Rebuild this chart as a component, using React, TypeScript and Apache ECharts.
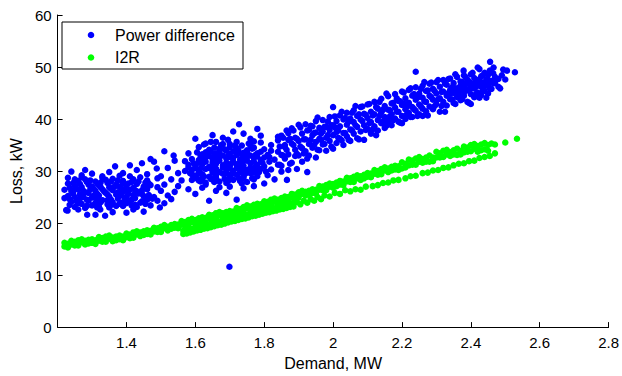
import React, { useEffect, useRef } from "react";
import * as echarts from "echarts";

type P = [number, number];

const xRange = [1.2, 2.8];
const xStep = 0.2;
const yRange = [0, 60];
const yStep = 10;

const blueCluster1: P[] = [
  [1.24,24.1],[1.26,23.8],[1.29,24.3],[1.31,23.9],[1.33,24.4],[1.36,24.0],[1.38,23.7],[1.41,24.2],[1.44,23.9],[1.46,24.5],
  [1.23,25.2],[1.25,25.0],[1.27,25.4],[1.30,24.9],[1.32,25.3],[1.35,25.1],[1.37,25.5],[1.40,25.0],[1.42,25.4],[1.45,25.2],[1.48,25.0],
  [1.24,26.1],[1.26,26.4],[1.28,25.9],[1.31,26.2],[1.33,26.5],[1.34,25.8],[1.36,26.3],[1.39,26.0],[1.41,26.4],[1.43,26.1],[1.46,26.5],
  [1.25,27.2],[1.27,26.9],[1.29,27.4],[1.30,27.0],[1.32,27.3],[1.35,26.9],[1.37,27.4],[1.38,27.0],[1.40,27.2],[1.43,27.5],[1.45,27.0],[1.47,27.3],
  [1.26,28.1],[1.28,28.4],[1.31,28.0],[1.34,28.3],[1.36,28.5],[1.39,28.1],[1.42,28.4],[1.44,28.8],[1.46,28.2],[1.49,28.6],
  [1.25,23.1],[1.28,22.9],[1.32,23.2],[1.35,23.0],[1.39,23.3],[1.43,23.1],[1.47,23.4],
  [1.235,23.5],[1.27,23.7],[1.30,23.4],[1.345,23.6],[1.37,23.3],[1.40,23.8],[1.425,23.5],[1.455,23.7],
  [1.235,24.6],[1.265,24.7],[1.285,24.5],[1.315,24.6],[1.345,24.4],[1.375,24.7],[1.395,24.5],[1.425,24.8],[1.455,24.4],[1.475,24.7],
  [1.245,25.7],[1.265,25.5],[1.29,25.8],[1.315,25.6],[1.345,25.5],[1.375,25.9],[1.405,25.6],[1.435,25.7],[1.465,25.4],
  [1.235,26.8],[1.255,26.6],[1.295,26.5],[1.325,26.9],[1.355,26.6],[1.385,26.7],[1.42,26.8],[1.445,26.3],[1.49,26.9],
  [1.245,27.7],[1.285,27.9],[1.315,27.6],[1.345,27.7],[1.39,27.6],[1.415,27.9],[1.455,27.8],
  [1.27,28.8],[1.33,28.7],[1.38,29.1],[1.41,29.0],[1.25,28.4],
  [1.255,24.2],[1.275,25.0],[1.305,25.3],[1.325,24.0],[1.355,24.5],[1.385,25.3],[1.415,24.5],[1.445,25.6],
  [1.245,26.3],[1.275,26.2],[1.305,26.6],[1.335,26.1],[1.365,27.0],[1.395,26.4],[1.425,26.3],[1.455,26.8],
  [1.265,27.5],[1.295,28.2],[1.325,27.8],[1.355,28.0],[1.375,28.2],[1.405,27.6],[1.435,28.0],[1.465,27.6],
  [1.285,23.3],[1.315,23.0],[1.355,23.5],[1.385,23.9],[1.415,23.4],[1.445,24.2],
  [1.22,24.8],[1.225,22.5],[1.23,27.6],[1.22,26.4],[1.23,28.7],[1.229,22.4],[1.286,21.6],[1.31,21.6],[1.338,21.4],[1.40,22.0],
  [1.42,22.6],[1.497,23.0],[1.324,22.6],[1.27,29.2],[1.30,29.5],[1.33,29.0],[1.367,30.9],[1.41,31.1],[1.445,31.5],[1.488,30.5],
  [1.51,33.8],[1.537,33.0],[1.54,32.0],[1.57,31.9],[1.35,29.8],[1.39,29.6],[1.43,30.2],[1.46,29.4],[1.48,31.8],[1.50,29.0],
  [1.51,27.4],[1.50,26.2],[1.52,25.3],[1.49,24.3],[1.51,23.8],[1.53,24.6],[1.52,30.6],[1.47,32.3],[1.45,22.2],[1.36,22.1],
  [1.26,22.6],[1.24,29.9],[1.28,30.2],[1.53,28.4],[1.55,27.1],[1.55,29.6],[1.54,26.0]
];

const blueCluster2: P[] = [
  [1.61,28.2],[1.63,27.8],[1.65,28.4],[1.67,28.0],[1.69,27.7],[1.71,28.3],[1.73,28.1],[1.75,27.9],[1.77,28.4],
  [1.60,29.1],[1.62,29.4],[1.64,28.9],[1.66,29.2],[1.68,29.5],[1.70,29.0],[1.72,29.3],[1.74,29.1],[1.76,29.6],[1.78,29.0],
  [1.59,30.2],[1.61,29.9],[1.63,30.4],[1.65,30.1],[1.67,29.8],[1.69,30.3],[1.71,30.0],[1.73,30.5],[1.75,30.2],[1.77,29.9],[1.79,30.4],
  [1.60,31.0],[1.62,31.3],[1.64,30.8],[1.66,31.4],[1.68,31.1],[1.70,30.9],[1.72,31.3],[1.74,31.0],[1.76,31.5],[1.78,31.2],[1.80,30.9],
  [1.61,32.1],[1.63,31.8],[1.65,32.3],[1.67,32.0],[1.69,32.4],[1.71,31.9],[1.73,32.2],[1.75,32.0],[1.77,32.5],[1.79,32.1],
  [1.62,33.2],[1.64,32.9],[1.66,33.4],[1.68,33.0],[1.70,33.3],[1.72,33.1],[1.74,33.5],[1.76,33.0],[1.78,33.4],[1.81,33.1],
  [1.64,34.1],[1.67,34.3],[1.69,33.9],[1.72,34.4],[1.75,34.0],[1.77,34.5],[1.80,34.2],
  [1.62,28.6],[1.66,28.7],[1.70,28.6],[1.74,28.7],[1.64,30.6],[1.68,30.7],[1.72,30.6],[1.76,30.7],[1.63,32.6],[1.67,32.7],
  [1.71,32.6],[1.75,32.7],[1.79,33.7],
  [1.605,28.6],[1.645,28.5],[1.685,28.5],[1.725,28.7],[1.765,28.6],
  [1.61,29.6],[1.65,29.7],[1.69,29.6],[1.73,29.8],[1.77,29.7],
  [1.60,30.6],[1.66,30.5],[1.70,30.5],[1.74,30.4],[1.78,30.6],
  [1.61,31.6],[1.65,31.7],[1.69,31.6],[1.73,31.7],[1.77,31.8],
  [1.62,32.5],[1.66,32.6],[1.70,32.7],[1.74,32.4],[1.78,32.8],
  [1.63,33.6],[1.67,33.7],[1.71,33.8],[1.75,33.6],[1.655,34.5],[1.70,34.6],[1.735,34.9],
  [1.615,28.0],[1.655,27.9],[1.695,28.1],[1.735,27.6],[1.625,29.0],[1.665,29.9],[1.705,29.4],[1.745,29.5],[1.785,29.8],
  [1.615,30.5],[1.655,30.9],[1.695,31.0],[1.735,31.3],[1.775,30.8],[1.625,31.9],[1.665,32.2],[1.705,31.5],[1.745,32.1],
  [1.615,33.0],[1.655,33.1],[1.695,32.9],[1.735,33.2],[1.775,33.1],[1.645,33.8],[1.685,34.2],[1.725,34.0],[1.765,34.3],
  [1.675,35.0],[1.715,34.9],[1.755,35.3],[1.695,36.0],[1.645,35.6],[1.605,33.6],[1.595,31.5],[1.585,29.6],[1.795,31.6],
  [1.805,29.9],[1.815,32.7],
  [1.59,29.4],[1.58,30.7],[1.815,31.8],[1.80,32.6],[1.82,33.9],[1.79,35.5],[1.625,35.1],[1.68,35.2],[1.72,35.6],[1.76,36.2],
  [1.64,24.3],[1.72,24.5],[1.58,26.5],[1.60,25.6],[1.62,26.8],[1.66,26.2],[1.69,25.8],[1.74,26.7],[1.77,27.1],[1.80,27.6],
  [1.83,28.4],[1.866,28.3],[1.56,28.2],[1.57,30.0],[1.58,33.4],[1.59,32.3],[1.61,34.6],[1.63,35.3],[1.66,35.6],[1.68,36.4],
  [1.70,35.2],[1.727,39.0],[1.74,37.2],[1.71,37.6],[1.65,36.9],[1.60,36.2],[1.77,35.7],[1.79,36.8],[1.82,35.0],[1.83,32.2],
  [1.82,30.3],[1.84,33.7],[1.85,31.0],[1.81,29.2],[1.78,38.1],[1.76,34.9],[1.63,27.4],[1.70,27.0],[1.67,26.9],[1.59,28.3],
  [1.58,31.2],[1.86,34.6],[1.87,30.2],[1.84,36.6]
];

const blueBand: P[] = [
  [1.84,31.2],[1.84,35.9],[1.85,33.1],[1.85,36.8],[1.85,29.9],[1.86,35.0],[1.86,32.4],[1.87,33.2],[1.87,37.3],[1.87,36.0],
  [1.88,31.6],[1.88,35.3],[1.88,38.2],[1.89,34.1],[1.89,36.4],[1.89,32.9],[1.90,35.8],[1.90,33.0],[1.90,38.9],[1.895,30.4],
  [1.91,34.4],[1.91,37.2],[1.91,31.8],[1.92,36.1],[1.92,33.8],[1.92,39.0],[1.925,29.8],[1.93,35.2],[1.93,37.9],[1.93,33.0],
  [1.94,36.9],[1.94,34.5],[1.94,38.6],[1.95,35.6],[1.95,37.4],[1.95,32.6],[1.95,39.6],[1.96,36.2],[1.96,38.3],[1.96,34.0],
  [1.97,37.6],[1.97,35.1],[1.97,39.8],[1.98,36.4],[1.98,38.5],[1.98,33.9],[1.99,37.9],[1.99,35.8],[1.99,40.4],
  [2.00,36.9],[2.00,38.8],[2.00,34.3],[2.00,42.3],[2.01,37.5],[2.01,39.6],[2.01,35.4],[2.02,38.6],[2.02,36.2],[2.02,40.7],
  [2.03,37.3],[2.03,39.9],[2.03,35.0],[2.04,38.9],[2.04,36.7],[2.04,41.2],[2.05,38.0],[2.05,40.1],[2.05,35.8],
  [2.06,39.4],[2.06,37.2],[2.06,41.7],[2.07,38.5],[2.07,40.6],[2.07,36.3],[2.08,39.9],[2.08,37.6],[2.08,42.3],
  [2.09,38.8],[2.09,41.0],[2.09,36.0],[2.10,40.2],[2.10,38.1],[2.10,42.8],[2.11,39.4],[2.11,41.4],[2.11,37.2],
  [2.12,40.9],[2.12,38.6],[2.12,43.3],[2.13,39.8],[2.13,42.0],[2.13,37.8],[2.14,41.3],[2.14,39.2],[2.14,43.9],
  [2.15,40.4],[2.15,42.5],[2.15,38.3],[2.16,41.8],[2.16,39.6],[2.16,44.4],[2.17,40.9],[2.17,43.0],[2.17,38.8],
  [2.18,42.2],[2.18,40.1],[2.18,44.8],[2.19,41.4],[2.19,43.5],[2.19,39.5],[2.20,42.7],[2.20,40.6],[2.20,45.3],[2.20,39.2],
  [2.21,41.9],[2.21,44.0],[2.21,40.0],[2.22,43.1],[2.22,41.2],[2.22,45.6],[2.23,42.3],[2.23,44.5],[2.23,40.4],
  [2.24,43.7],[2.24,41.6],[2.24,46.1],[2.24,49.1],[2.25,42.8],[2.25,44.9],[2.25,40.9],[2.26,44.1],[2.26,42.0],[2.26,46.4],[2.26,40.6],
  [2.27,43.3],[2.27,45.4],[2.27,41.5],[2.28,44.5],[2.28,42.4],[2.28,46.8],[2.29,43.7],[2.29,45.8],[2.29,41.9],
  [2.30,44.9],[2.30,42.9],[2.30,47.1],[2.31,44.0],[2.31,46.2],[2.31,41.4],[2.32,45.3],[2.32,43.3],[2.32,47.5],
  [2.33,44.5],[2.33,46.6],[2.33,42.6],[2.34,45.6],[2.34,43.8],[2.34,47.8],[2.34,44.9],[2.35,45.0],[2.35,46.9],[2.35,43.1],[2.35,46.0],
  [2.36,45.9],[2.36,44.2],[2.36,48.1],[2.36,45.3],[2.37,45.4],[2.37,47.2],[2.37,43.6],[2.37,46.4],[2.38,46.2],[2.38,44.5],[2.38,48.4],[2.38,45.7],
  [2.39,45.6],[2.39,47.6],[2.39,43.3],[2.39,46.8],[2.40,46.5],[2.40,44.8],[2.40,48.6],[2.40,42.9],[2.40,45.9],
  [2.41,45.9],[2.41,47.9],[2.41,44.2],[2.41,46.9],[2.42,46.8],[2.42,45.1],[2.42,49.9],[2.42,47.5],[2.43,46.2],[2.43,48.2],[2.43,44.6],[2.43,47.1],
  [2.44,47.0],[2.44,45.4],[2.44,48.9],[2.44,46.3],[2.45,46.6],[2.45,48.5],[2.45,44.9],[2.45,47.6],[2.46,47.3],[2.456,51.0],[2.46,45.8],
  [2.47,46.9],[2.466,49.9],[2.47,48.1],[2.48,47.7],[2.48,46.2],[2.49,48.4],[2.494,49.5],[2.50,47.6],[2.505,49.3],[2.528,49.0],[2.379,49.3]
];

const blueBandFill: P[] = [
  [1.845,31.2],[1.845,34.7],[1.855,36.4],[1.855,33.0],[1.865,37.8],[1.865,34.1],[1.875,36.2],[1.875,31.4],[1.885,35.0],[1.885,37.8],
  [1.895,33.3],[1.895,36.2],[1.905,34.7],[1.905,38.4],[1.915,33.4],[1.915,36.1],[1.925,37.8],[1.925,32.4],[1.935,36.0],[1.935,38.7],
  [1.945,35.0],[1.945,37.3],[1.955,34.1],[1.955,40.3],[1.965,37.2],[1.965,36.0],[1.975,38.5],[1.975,35.2],[1.985,39.5],[1.985,36.9],
  [1.995,38.8],[1.995,34.7],[2.005,38.4],[2.005,40.5],[2.015,36.4],[2.015,37.8],[2.025,41.4],[2.025,35.9],[2.035,40.2],[2.035,37.3],
  [2.045,36.0],[2.045,39.5],[2.055,41.2],[2.055,37.8],[2.065,42.5],[2.065,38.8],[2.075,40.9],[2.075,36.1],[2.085,39.6],[2.085,42.4],
  [2.095,37.9],[2.095,40.8],[2.105,39.2],[2.105,42.9],[2.115,38.0],[2.115,40.7],[2.125,42.3],[2.125,36.9],[2.135,40.6],[2.135,43.3],
  [2.145,39.5],[2.145,41.8],[2.155,38.7],[2.155,44.9],[2.165,41.7],[2.165,40.5],[2.175,43.1],[2.175,39.8],[2.185,44.0],[2.185,41.4],
  [2.195,43.4],[2.195,39.3],[2.205,43.0],[2.205,45.1],[2.215,41.0],[2.215,42.4],[2.225,45.9],[2.225,40.4],[2.235,44.8],[2.235,41.9],
  [2.245,40.6],[2.245,44.1],[2.255,45.8],[2.255,42.4],[2.265,47.1],[2.265,43.4],[2.275,45.5],[2.275,40.7],[2.285,44.2],[2.285,47.0],
  [2.295,42.5],[2.295,45.4],[2.305,43.8],[2.305,47.5],[2.315,42.5],[2.315,45.2],[2.325,46.8],[2.325,41.4],[2.335,45.0],[2.335,47.7],
  [2.345,43.8],[2.345,46.1],[2.355,42.9],[2.355,48.6],[2.365,45.9],[2.365,44.7],[2.375,47.1],[2.375,43.8],[2.385,48.0],[2.385,45.4],
  [2.395,47.2],[2.395,43.1],[2.405,46.8],[2.405,48.9],[2.415,44.8],[2.415,46.2],[2.425,49.6],[2.425,44.1],[2.435,48.4],[2.435,45.5],
  [2.445,44.1],[2.445,47.6],[2.455,49.3],[2.455,45.9],[2.465,46.9],[2.465,48.8],[2.475,47.6],[2.485,45.9]
];

const blueOutlier: P[] = [[1.699, 11.6]];

const greenUpper: P[] = [
  [1.22,16.2],[1.22,15.5],[1.23,16.0],[1.23,15.3],[1.24,16.6],[1.24,15.9],[1.25,15.7],[1.25,16.4],[1.26,16.7],[1.26,15.7],
  [1.27,16.3],[1.27,16.9],[1.28,15.9],[1.28,16.6],[1.29,16.8],[1.29,16.1],[1.30,16.9],[1.30,16.2],[1.31,16.7],[1.31,16.0],
  [1.32,17.3],[1.32,16.6],[1.33,16.4],[1.33,17.1],[1.34,17.4],[1.34,16.4],[1.35,17.0],[1.35,17.6],[1.36,16.5],[1.36,17.2],
  [1.37,17.4],[1.37,16.7],[1.38,17.6],[1.38,16.9],[1.39,17.4],[1.39,16.7],[1.40,18.0],[1.40,17.3],[1.41,17.1],[1.41,17.8],
  [1.42,18.2],[1.42,17.2],[1.43,17.8],[1.43,18.4],[1.44,17.5],[1.44,18.2],[1.45,18.4],[1.45,17.7],[1.46,18.6],[1.46,17.9],
  [1.47,18.5],[1.47,17.8],[1.48,19.1],[1.48,18.4],[1.49,18.3],[1.49,19.0],[1.50,19.3],[1.50,18.3],[1.51,19.0],[1.51,19.6],
  [1.52,18.6],[1.52,19.3],[1.53,19.6],[1.53,18.9],[1.54,19.8],[1.54,19.1],[1.55,19.7],[1.55,19.0],[1.56,20.4],[1.56,19.7],
  [1.57,19.5],[1.57,20.2],[1.58,20.6],[1.58,19.6],[1.59,20.2],[1.59,20.8],[1.60,19.9],[1.60,20.6],[1.61,20.9],[1.61,20.2],
  [1.62,21.1],[1.62,20.4],[1.63,21.0],[1.63,20.3],[1.64,21.6],[1.64,20.9],[1.65,20.8],[1.65,21.5],[1.66,21.9],[1.66,20.9],
  [1.67,21.5],[1.67,22.1],[1.68,21.2],[1.68,21.9],[1.69,22.1],[1.69,21.4],[1.70,22.3],[1.70,21.6],[1.71,22.2],[1.71,21.5],
  [1.72,22.9],[1.72,22.2],[1.73,22.0],[1.73,22.7],[1.74,23.1],[1.74,22.1],[1.75,22.8],[1.75,23.4],[1.76,22.5],[1.76,23.2],
  [1.77,23.5],[1.77,22.8],[1.78,23.7],[1.78,23.0],[1.79,23.6],[1.79,22.9],[1.80,24.2],[1.80,23.5],[1.81,23.4],[1.81,24.1],
  [1.82,24.5],[1.82,23.5],[1.83,24.1],[1.83,24.7],[1.84,23.8],[1.84,24.5],[1.85,24.8],[1.85,24.1],[1.86,25.1],[1.86,24.4],
  [1.87,25.0],[1.87,24.3],[1.88,25.6],[1.88,24.9],[1.89,24.8],[1.89,25.5],[1.90,25.9],[1.90,24.9],[1.91,25.6],[1.91,26.2],
  [1.92,25.3],[1.92,26.0],[1.93,26.2],[1.93,25.5],[1.94,26.5],[1.94,25.8],[1.95,26.4],[1.95,25.7],[1.96,27.1],[1.96,26.4],
  [1.97,26.3],[1.97,27.0],[1.98,27.3],[1.98,26.3],[1.99,27.0],[1.99,27.6],[2.00,26.8],[2.00,27.5],[2.01,27.8],[2.01,27.1],
  [2.02,28.1],[2.02,27.4],[2.03,28.0],[2.03,27.3],[2.04,28.7],[2.04,28.0],[2.05,27.9],[2.05,28.6],[2.06,28.9],[2.06,27.9],
  [2.07,28.6],[2.07,29.2],[2.08,28.3],[2.08,29.0],[2.09,29.3],[2.09,28.6],[2.10,29.6],[2.10,28.9],[2.11,29.5],[2.11,28.8],
  [2.12,30.2],[2.12,29.5],[2.13,29.3],[2.13,30.0],[2.14,30.4],[2.14,29.4],[2.15,30.1],[2.15,30.7],[2.16,29.8],[2.16,30.5],
  [2.17,30.8],[2.17,30.1],[2.18,31.0],[2.18,30.3],[2.19,30.9],[2.19,30.2],[2.20,31.7],[2.20,30.5],[2.21,31.4],[2.21,30.7],
  [2.22,32.2],[2.22,31.1],[2.23,31.2],[2.23,32.0],[2.24,32.4],[2.24,31.2],[2.25,31.8],[2.25,32.7],[2.26,31.6],[2.26,32.3],
  [2.27,32.6],[2.27,31.8],[2.28,33.0],[2.28,31.8],[2.29,32.6],[2.29,31.9],[2.30,33.7],[2.30,32.6],[2.31,32.6],[2.31,33.4],
  [2.32,33.9],[2.32,32.7],[2.33,33.2],[2.33,34.1],[2.34,32.9],[2.34,33.6],[2.35,34.0],[2.35,33.2],[2.36,34.3],[2.36,33.1],
  [2.37,33.9],[2.37,33.2],[2.38,34.7],[2.38,33.6],[2.39,33.7],[2.39,34.5],[2.40,35.0],[2.40,33.8],[2.41,34.3],[2.41,35.2],
  [2.42,33.7],[2.42,34.8],[2.43,35.1],[2.43,34.0],[2.44,35.4],[2.44,34.2],[2.45,35.0],[2.45,33.9],[2.46,35.3],[2.47,35.1],
  [2.50,35.5],[2.534,36.2]
];

const greenLower: P[] = [
  [1.565,17.9],[1.565,18.5],[1.575,18.7],[1.575,18.0],[1.585,18.2],[1.585,18.9],[1.595,19.0],[1.595,18.4],[1.605,18.6],[1.605,19.2],
  [1.615,19.4],[1.615,18.7],[1.625,18.9],[1.625,19.5],[1.635,19.7],[1.635,19.0],[1.645,19.2],[1.645,19.9],[1.655,20.0],[1.655,19.4],
  [1.665,19.6],[1.665,20.2],[1.675,20.4],[1.675,19.7],[1.685,19.9],[1.685,20.6],[1.695,20.7],[1.695,20.1],[1.705,20.3],[1.705,20.9],
  [1.715,21.1],[1.715,20.4],[1.725,20.6],[1.725,21.2],[1.735,21.4],[1.735,20.8],[1.745,20.9],[1.745,21.6],[1.755,21.7],[1.755,21.1],
  [1.765,21.3],[1.765,21.9],[1.775,22.1],[1.775,21.4],[1.785,21.6],[1.785,22.2],[1.795,22.4],[1.795,21.8],[1.805,22.0],[1.805,22.6],
  [1.815,22.8],[1.815,22.1],[1.825,22.3],[1.825,22.9],[1.835,23.0],[1.835,22.4],[1.845,22.6],[1.845,23.2],[1.855,23.4],[1.855,22.7],
  [1.865,22.9],[1.865,23.5],[1.875,23.7],[1.875,23.1],[1.885,23.2],[1.885,23.9],[1.895,24.0],[1.905,23.6],[1.915,24.3],[1.925,23.9],
  [1.935,24.6],[1.945,24.3],[1.955,25.0],[1.965,24.6],[1.975,25.3],[1.99,25.1],[2.005,25.8],[2.02,25.6],[2.035,26.3],[2.05,26.1],
  [2.065,26.5],[2.08,26.4],[2.095,27.0],[2.115,27.1],[2.13,27.3],[2.145,27.7],[2.16,27.8],[2.175,28.2],[2.19,28.3],[2.21,28.6],
  [2.225,29.0],[2.24,29.1],[2.26,29.6],[2.275,29.7],[2.29,30.1],[2.305,30.2],[2.32,30.6],[2.335,30.7],[2.35,31.1],[2.365,31.4],
  [2.38,31.5],[2.395,31.9],[2.41,32.0],[2.425,32.5],[2.44,32.7],[2.455,32.9],[2.47,33.4]
];

const seriesNames = ["Power difference", "I2R"];
const seriesColors = ["#0000ff", "#00ff00"];
const xName = "Demand, MW";
const yName = "Loss, kW";

const FONT = "'Liberation Sans', Arial, Helvetica, sans-serif";

export default function App() {
  const ref = useRef<HTMLDivElement>(null);
  useEffect(() => {
    if (!ref.current) return;
    const chart = echarts.init(ref.current, null, { renderer: "svg" });
    const blue = [...blueCluster1, ...blueCluster2, ...blueBand, ...blueBandFill, ...blueOutlier];
    const green = [...greenUpper, ...greenLower];
    const legendRows = seriesNames.map((n, i) => [
      {
        type: "circle",
        shape: { cx: 91, cy: 35 + i * 22.5, r: 3.3 },
        style: { fill: seriesColors[i] },
        z: 101,
      },
      {
        type: "text",
        x: 115,
        y: 35 + i * 22.5,
        style: {
          text: n,
          fontSize: 16,
          fill: "#000",
          verticalAlign: "middle",
          align: "left",
          fontFamily: FONT,
        },
        z: 101,
      },
    ]).flat();
    chart.setOption({
      animation: false,
      backgroundColor: "#ffffff",
      textStyle: { fontFamily: FONT },
      grid: { left: 54, right: 13, top: 15, bottom: 45, containLabel: false },
      graphic: [
        {
          type: "rect",
          shape: { x: 62, y: 22, width: 181, height: 47 },
          style: { fill: "#ffffff", stroke: "#000", lineWidth: 1 },
          z: 100,
        },
        ...legendRows,
      ],
      xAxis: {
        type: "value",
        min: xRange[0],
        max: xRange[1],
        interval: xStep,
        name: xName,
        nameLocation: "middle",
        nameGap: 27,
        nameTextStyle: { fontSize: 16, color: "#000", fontFamily: FONT },
        axisLine: { onZero: false, lineStyle: { color: "#000", width: 1 } },
        axisTick: { inside: true, length: 5, lineStyle: { color: "#000" } },
        axisLabel: { color: "#000", fontSize: 15, margin: 8, showMinLabel: false, fontFamily: FONT },
        splitLine: { show: false },
      },
      yAxis: {
        type: "value",
        min: yRange[0],
        max: yRange[1],
        interval: yStep,
        name: yName,
        nameLocation: "middle",
        nameGap: 30,
        nameTextStyle: { fontSize: 16, color: "#000", fontFamily: FONT },
        axisLine: { show: true, onZero: false, lineStyle: { color: "#000", width: 1 } },
        axisTick: { show: true, inside: true, length: 5, lineStyle: { color: "#000" } },
        axisLabel: { color: "#000", fontSize: 15, margin: 6, fontFamily: FONT },
        splitLine: { show: false },
      },
      series: [
        {
          name: seriesNames[0],
          type: "scatter",
          data: blue,
          symbol: "circle",
          symbolSize: 6.5,
          itemStyle: { color: seriesColors[0], opacity: 1 },
          emphasis: { disabled: true },
        },
        {
          name: seriesNames[1],
          type: "scatter",
          data: green,
          symbol: "circle",
          symbolSize: 6.5,
          itemStyle: { color: seriesColors[1], opacity: 1 },
          emphasis: { disabled: true },
        },
      ],
    });
    return () => chart.dispose();
  }, []);
  return (
    <div
      ref={ref}
      style={{ position: "absolute", left: 0, top: 0, width: 622, height: 376 }}
    />
  );
}
